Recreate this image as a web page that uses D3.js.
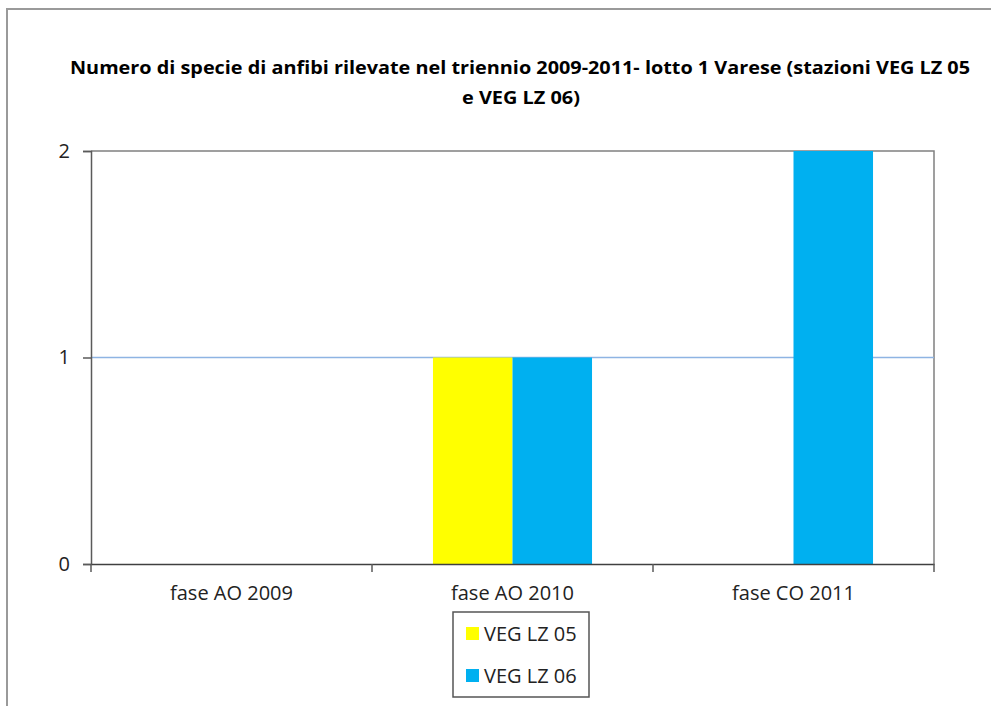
<!DOCTYPE html>
<html>
<head>
<meta charset="utf-8">
<script src="https://cdn.jsdelivr.net/npm/d3@7"></script>
<style>
  html, body { margin: 0; padding: 0; background: #fff; }
  svg { display: block; }
</style>
</head>
<body>
<svg id="chart" width="991" height="706"></svg>
<script>
// Data
const categories = ["fase AO 2009", "fase AO 2010", "fase CO 2011"];
const seriesNames = ["VEG LZ 05", "VEG LZ 06"];
const vegLZ05 = [0, 1, 0];
const vegLZ06 = [0, 1, 2];
const yTicks = [0, 1, 2];
const titleLines = [
  "Numero di specie di anfibi rilevate nel triennio 2009-2011- lotto 1 Varese (stazioni VEG LZ 05",
  "e VEG LZ 06)"
];
const colors = ["#ffff00", "#00b0f0"];

const svg = d3.select("#chart");
const font = "'Open Sans', 'Liberation Sans', sans-serif";

// Outer chart frame (right/bottom sides fall outside the view)
svg.append("rect")
  .attr("x", 7).attr("y", 9)
  .attr("width", 1010).attr("height", 720)
  .attr("fill", "#fff")
  .attr("stroke", "#9a9a9a").attr("stroke-width", 2);

// Title
const title = svg.append("g");
title.append("text")
  .attr("x", 520).attr("y", 74)
  .attr("text-anchor", "middle")
  .attr("font-family", font).attr("font-weight", "bold").attr("font-size", 18)
  .attr("textLength", 900).attr("lengthAdjust", "spacingAndGlyphs")
  .attr("fill", "#000")
  .text(titleLines[0]);
title.append("text")
  .attr("x", 521).attr("y", 104)
  .attr("text-anchor", "middle")
  .attr("font-family", font).attr("font-weight", "bold").attr("font-size", 18)
  .attr("textLength", 118).attr("lengthAdjust", "spacingAndGlyphs")
  .attr("fill", "#000")
  .text(titleLines[1]);

// Plot area
const plot = { left: 91, right: 934, top: 151, bottom: 564 };

const x = d3.scaleBand()
  .domain(categories)
  .range([plot.left, plot.right])
  .paddingInner(0).paddingOuter(0);

const groupPad = 0.217; // fraction of band left empty on each side
const xSeries = d3.scaleBand()
  .domain(seriesNames)
  .range([x.bandwidth() * groupPad, x.bandwidth() * (1 - groupPad)]);

const y = d3.scaleLinear()
  .domain([0, 2])
  .range([plot.bottom, plot.top]);

// Plot border (top and right) in gray
svg.append("path")
  .attr("d", `M${plot.left},${plot.top}H${plot.right}V${plot.bottom}`)
  .attr("fill", "none")
  .attr("stroke", "#808080").attr("stroke-width", 1.5);

// Gridlines (interior)
svg.append("g")
  .selectAll("line")
  .data(yTicks.filter(t => t > 0 && t < 2))
  .join("line")
  .attr("x1", plot.left).attr("x2", plot.right)
  .attr("y1", d => y(d)).attr("y2", d => y(d))
  .attr("stroke", "#8eb4e3").attr("stroke-width", 1.5);

// Bars
const rows = categories.map((c, i) => ({ cat: c, values: [vegLZ05[i], vegLZ06[i]] }));
const groups = svg.append("g")
  .selectAll("g")
  .data(rows)
  .join("g")
  .attr("transform", d => `translate(${x(d.cat)},0)`);

groups.selectAll("rect")
  .data(d => d.values.map((v, k) => ({ name: seriesNames[k], value: v, k })))
  .join("rect")
  .attr("x", d => xSeries(d.name))
  .attr("width", xSeries.bandwidth())
  .attr("y", d => y(d.value))
  .attr("height", d => y(0) - y(d.value))
  .attr("fill", d => colors[d.k]);

// Y axis
const yAxis = svg.append("g")
  .attr("transform", `translate(${plot.left},0)`)
  .call(d3.axisLeft(y).tickValues(yTicks).tickFormat(d3.format("d")).tickSize(8).tickPadding(13));
yAxis.select(".domain").attr("stroke", "#5a5a5a").attr("stroke-width", 1.5);
yAxis.selectAll(".tick line").attr("stroke", "#5a5a5a").attr("stroke-width", 1.5);
yAxis.selectAll(".tick text")
  .attr("font-family", font).attr("font-size", 20).attr("fill", "#222");

// X axis
const xAxis = svg.append("g")
  .attr("transform", `translate(0,${plot.bottom})`)
  .call(d3.axisBottom(x).tickSize(0).tickPadding(22));
xAxis.select(".domain").attr("stroke", "#404040").attr("stroke-width", 1.5);
xAxis.selectAll(".tick text")
  .attr("font-family", font).attr("font-size", 20).attr("fill", "#222");
// Category boundary tick marks
svg.append("g")
  .selectAll("line")
  .data(categories.map(c => x(c) + x.bandwidth()))
  .join("line")
  .attr("x1", d => d).attr("x2", d => d)
  .attr("y1", plot.bottom).attr("y2", plot.bottom + 8)
  .attr("stroke", "#5a5a5a").attr("stroke-width", 1.5);
svg.append("line")
  .attr("x1", plot.left).attr("x2", plot.left)
  .attr("y1", plot.bottom).attr("y2", plot.bottom + 8)
  .attr("stroke", "#5a5a5a").attr("stroke-width", 1.5);

// Legend
const legend = svg.append("g").attr("transform", "translate(453,612)");
legend.append("rect")
  .attr("width", 136).attr("height", 85)
  .attr("fill", "#fff")
  .attr("stroke", "#555").attr("stroke-width", 1.5);
const items = legend.selectAll("g.item")
  .data(seriesNames)
  .join("g")
  .attr("class", "item")
  .attr("transform", (d, i) => `translate(13,${15 + i * 42})`);
items.append("rect")
  .attr("width", 13).attr("height", 13)
  .attr("fill", (d, i) => colors[i]);
items.append("text")
  .attr("x", 18).attr("y", 14)
  .attr("font-family", font).attr("font-size", 20).attr("fill", "#222")
  .text(d => d);
</script>
</body>
</html>
